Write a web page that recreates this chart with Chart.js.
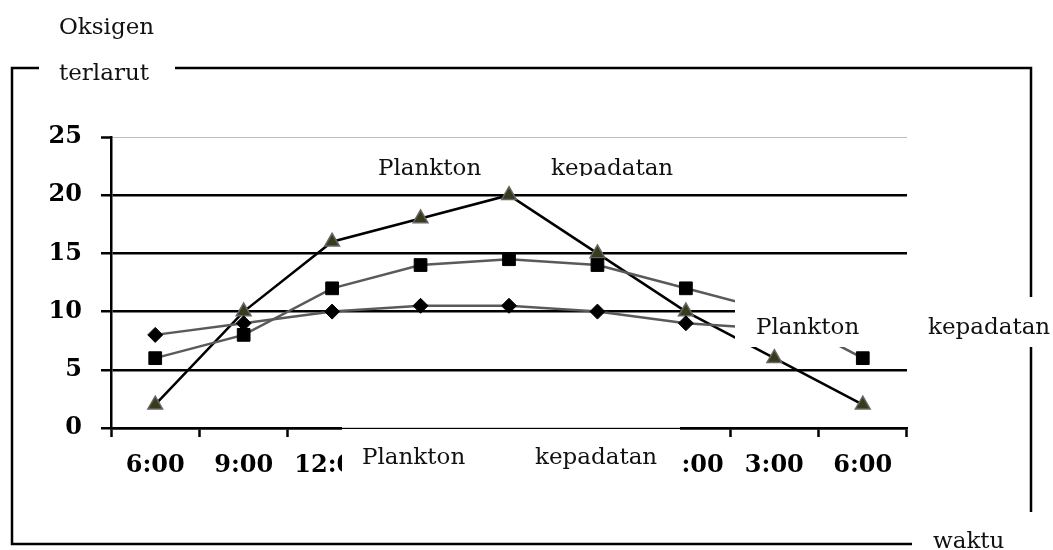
<!doctype html>
<html lang="id">
  <head>
    <meta charset="utf-8">
    <title>Oksigen terlarut</title>
    <style>
      * { margin: 0; padding: 0; }
      body { background: #fff; width: 1053px; height: 550px; overflow: hidden; }
      canvas { position: absolute; left: 0; top: 0; }
    </style>
  </head>
  <body>
    <canvas id="myChart" width="1053" height="550"></canvas>
    <script src="https://cdn.jsdelivr.net/npm/chart.js/dist/chart.umd.min.js"></script>
    <script>
    // setup
    const categories = ['6:00', '9:00', '12:00', '3:00', '6:00', '9:00', '12:00', '3:00', '6:00'];
    const diamondValues = [8, 9, 10, 10.5, 10.5, 10, 9, 8.5, 8];
    const squareValues = [6, 8, 12, 14, 14.5, 14, 12, 10, 6];
    const triangleValues = [2, 10, 16, 18, 20, 15, 10, 6, 2];
    const yTicks = [0, 5, 10, 15, 20, 25];

    const serif = "'DejaVu Serif', serif";

    const data = {
      labels: categories,
      datasets: [{
        label: 'A',
        data: diamondValues,
        borderColor: '#5a5a5a',
        borderWidth: 2.5,
        pointStyle: 'rectRot',
        pointRadius: 7.5,
        pointBackgroundColor: '#000',
        pointBorderColor: '#000',
        pointBorderWidth: 1
      }, {
        label: 'B',
        data: squareValues,
        borderColor: '#5a5a5a',
        borderWidth: 2.5,
        pointStyle: 'rect',
        pointRadius: 9,
        pointBackgroundColor: '#000',
        pointBorderColor: '#000',
        pointBorderWidth: 1
      }, {
        label: 'C',
        data: triangleValues,
        borderColor: '#000',
        borderWidth: 2.5,
        pointStyle: 'triangle',
        pointRadius: 8.5,
        pointBackgroundColor: '#3a3a1c',
        pointBorderColor: '#666',
        pointBorderWidth: 1.5
      }]
    };

    // frame, labels and white text boxes drawn over the chart
    const decorations = {
      id: 'decorations',
      afterDraw(chart) {
        const { ctx } = chart;
        ctx.save();

        // white boxes
        ctx.fillStyle = '#fff';
        ctx.fillRect(735, 296, 330, 51);
        ctx.fillRect(342, 429, 338, 60);
        ctx.strokeStyle = '#d0d0d0';
        ctx.lineWidth = 1;
        ctx.beginPath();
        ctx.moveTo(342, 427.5);
        ctx.lineTo(680, 427.5);
        ctx.stroke();

        // outer frame
        ctx.strokeStyle = '#000';
        ctx.lineWidth = 2.5;
        ctx.beginPath();
        ctx.moveTo(39, 68); ctx.lineTo(12, 68); ctx.lineTo(12, 544); ctx.lineTo(912, 544);
        ctx.moveTo(175, 68); ctx.lineTo(1031, 68); ctx.lineTo(1031, 297);
        ctx.moveTo(1031, 347); ctx.lineTo(1031, 512);
        ctx.stroke();

        // texts
        ctx.fillStyle = '#111';
        ctx.font = '23px ' + serif;
        ctx.textBaseline = 'alphabetic';
        ctx.textAlign = 'left';
        ctx.fillText('Oksigen', 59, 34);
        ctx.fillText('terlarut', 59, 80);
        ctx.fillText('waktu', 933, 548);
        ctx.fillText('Plankton', 756, 334);
        ctx.fillText('kepadatan', 928, 334);
        ctx.fillText('Plankton', 362, 464);
        ctx.fillText('kepadatan', 535, 464);

        // top box clips the descenders
        ctx.save();
        ctx.beginPath();
        ctx.rect(360, 145, 340, 31);
        ctx.clip();
        ctx.fillText('Plankton', 378, 175);
        ctx.fillText('kepadatan', 551, 175);
        ctx.restore();

        ctx.restore();
      }
    };

    // config
    const config = {
      type: 'line',
      data,
      options: {
        responsive: false,
        animation: false,
        layout: {
          padding: { top: 137, right: 146, left: 0, bottom: 0 }
        },
        elements: {
          line: { tension: 0 }
        },
        scales: {
          x: {
            offset: true,
            afterFit: (scale) => { scale.height = 122; },
            grid: {
              offset: true,
              drawOnChartArea: false,
              drawTicks: true,
              tickLength: 9,
              tickColor: '#000',
              tickWidth: 2.5
            },
            border: { color: '#000', width: 2.5 },
            ticks: {
              color: '#000',
              padding: 14,
              maxRotation: 0,
              autoSkip: false,
              font: { family: serif, size: 24, weight: 'bold' }
            }
          },
          y: {
            min: 0,
            max: 25,
            afterFit: (scale) => { scale.width = 111; },
            afterBuildTicks: (scale) => {
              scale.ticks = yTicks.map(v => ({ value: v }));
            },
            grid: {
              color: (c) => c.tick && c.tick.value === 25 ? '#bdbdbd' : '#000',
              lineWidth: (c) => c.tick && c.tick.value === 25 ? 1 : 2.5,
              tickLength: 10,
              tickColor: '#000',
              tickWidth: 2.5
            },
            border: { color: '#000', width: 2.5 },
            ticks: {
              color: '#000',
              padding: 19,
              font: { family: serif, size: 24, weight: 'bold' }
            }
          }
        },
        plugins: {
          legend: { display: false },
          tooltip: { enabled: false }
        }
      },
      plugins: [decorations]
    };

    // render init block
    const myChart = new Chart(
      document.getElementById('myChart'),
      config
    );
    </script>
  </body>
</html>
